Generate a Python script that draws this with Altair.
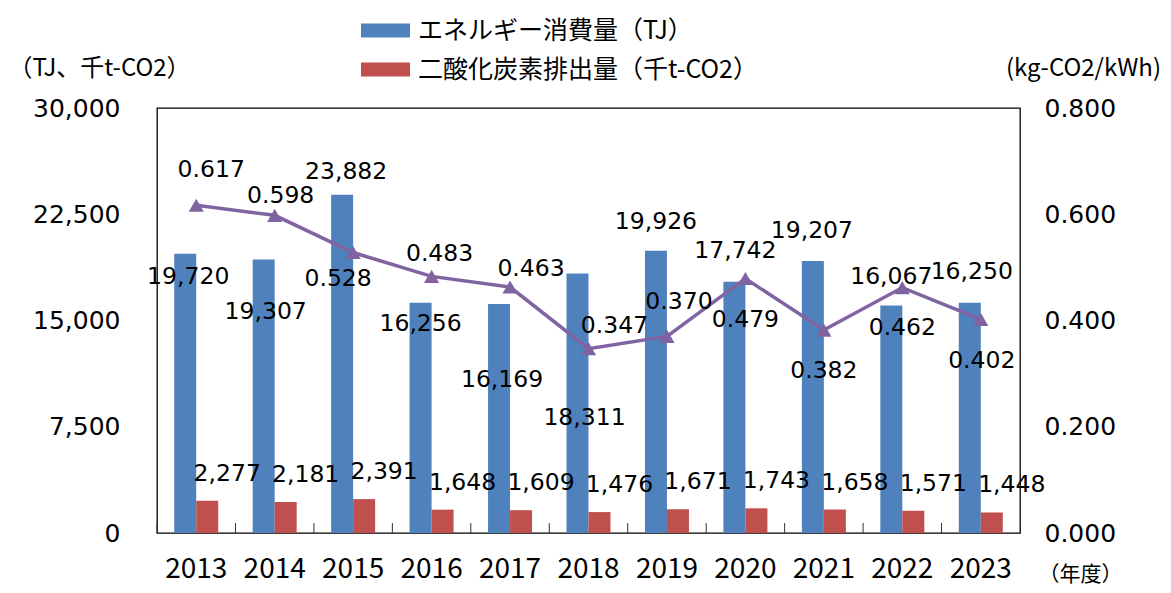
import altair as alt
import pandas as pd

# ---------------- data ----------------
YEARS = ["2013", "2014", "2015", "2016", "2017", "2018", "2019", "2020", "2021", "2022", "2023"]
ENERGY_TJ = [19720, 19307, 23882, 16256, 16169, 18311, 19926, 17742, 19207, 16067, 16250]
CO2_KT = [2277, 2181, 2391, 1648, 1609, 1476, 1671, 1743, 1658, 1571, 1448]
FACTOR = [0.617, 0.598, 0.528, 0.483, 0.463, 0.347, 0.370, 0.479, 0.382, 0.462, 0.402]
SERIES = ["エネルギー消費量（TJ）", "二酸化炭素排出量（千t-CO2）"]
LEFT_TICKS = [0, 7500, 15000, 22500, 30000]
RIGHT_TICKS = [0, 0.2, 0.4, 0.6, 0.8]
LEFT_MAX = 30000
RIGHT_MAX = 0.8
LEFT_TITLE = "（TJ、千t-CO2）"
RIGHT_TITLE = "(kg-CO2/kWh)"
X_TITLE = "（年度）"

# ---------------- label nudges (pixels, relative to the point; +dy = down) ----------------
ENERGY_LABEL_DX = [-8, -9, -7, -11, -8, -4, -11, -10, -12, -11, -9]
ENERGY_LABEL_DY = [23, 53, -23, 21, 76, 144, -29, -31, -30, -28, -31]
FACTOR_LABEL_DX = [15, 6, -15, 8, 21, 26, 12, 0, 0, 0, 1]
FACTOR_LABEL_DY = [-35, -19, 26, -22, -18, -23, -34, 41, 41, 40, 42]
CO2_LABEL_DX = 31
CO2_LABEL_DY = -27

# ---------------- styles ----------------
BLUE = "#4F81BD"
RED = "#C0504D"
PURPLE = "#8064A2"
NUM_FONT = "DejaVu Sans"
JP_FONT = "Noto Sans CJK JP"
PLOT_W, PLOT_H = 863, 425
STEP = PLOT_W / len(YEARS)
L_PER_PX = LEFT_MAX / PLOT_H
R_PER_PX = RIGHT_MAX / PLOT_H
TICK_LEN = 10

df = pd.DataFrame({
    "year": YEARS,
    "energy": ENERGY_TJ,
    "co2": CO2_KT,
    "factor": FACTOR,
    "e_dx": ENERGY_LABEL_DX,
    "e_dy": ENERGY_LABEL_DY,
    "f_dx": FACTOR_LABEL_DX,
    "f_dy": FACTOR_LABEL_DY,
})

base = alt.Chart(df).transform_calculate(
    e_xo=f"datum.e_dx + {STEP / 2}",
    f_xo=f"datum.f_dx + {STEP / 2}",
    c_xo=f"{CO2_LABEL_DX + STEP / 2}",
    band_start="0",
    e_ly=f"datum.energy - datum.e_dy * {L_PER_PX}",
    c_ly=f"datum.co2 - ({CO2_LABEL_DY}) * {L_PER_PX}",
    f_ly=f"datum.factor - datum.f_dy * {R_PER_PX}",
    s_energy=f"'{SERIES[0]}'",
    s_co2=f"'{SERIES[1]}'",
)

xscale = alt.Scale(paddingInner=0, paddingOuter=0)
x_axis_bottom = alt.Axis(
    orient="bottom", labelAngle=0, labelFont=JP_FONT, labelFontSize=28,
    labelColor="black", labelBaseline="middle", labelPadding=36,
    ticks=False, tickSize=0, domain=False, grid=False,
    title=X_TITLE, titleFont=JP_FONT, titleFontSize=21, titleFontWeight="normal",
    titleColor="black", titleAngle=0, titleAlign="center", titleBaseline="middle",
    titleX=923, titleY=41,
)
y_axis_left = alt.Axis(
    values=LEFT_TICKS, format=",d", labelFont=NUM_FONT, labelFontSize=25,
    labelColor="black", labelPadding=37, ticks=False, tickSize=0, domain=False,
    grid=False, title=LEFT_TITLE, titleFont=JP_FONT, titleFontSize=24,
    titleFontWeight="normal", titleColor="black", titleAngle=0, titleAlign="center",
    titleBaseline="middle", titleX=-58, titleY=-40,
)
y_axis_right = alt.Axis(
    orient="right", values=RIGHT_TICKS, format=".3f", labelFont=NUM_FONT,
    labelFontSize=25, labelColor="black", labelPadding=24, ticks=False,
    tickSize=0, domain=False, grid=False, title=RIGHT_TITLE, titleFont=JP_FONT,
    titleFontSize=24, titleFontWeight="normal", titleColor="black", titleAngle=0,
    titleAlign="center", titleBaseline="middle", titleX=63, titleY=-40,
)
yscale_left = alt.Scale(domain=[0, LEFT_MAX], nice=False)
yscale_right = alt.Scale(domain=[0, RIGHT_MAX], nice=False)

x_enc = alt.X("year:N", scale=xscale, sort=YEARS, axis=x_axis_bottom)

color_scale = alt.Scale(domain=SERIES, range=[BLUE, RED])
legend = alt.Legend(
    orient="none", legendX=214.5, legendY=-91.5, direction="vertical", title=None,
    symbolType="M-1.75,-0.5H1.75V0.5H-1.75Z", symbolSize=784, symbolStrokeWidth=0,
    labelFont=JP_FONT, labelFontSize=25, labelColor="black", labelOffset=18.5,
    labelLimit=0, rowPadding=12, padding=0,
)

blue_bars = base.mark_bar(width=22, xOffset=-11).encode(
    x=x_enc,
    y=alt.Y("energy:Q", scale=yscale_left, axis=y_axis_left),
    color=alt.Color("s_energy:N", scale=color_scale, legend=legend),
)
red_bars = base.mark_bar(width=22, xOffset=11).encode(
    x=x_enc,
    y=alt.Y("co2:Q", scale=yscale_left, axis=y_axis_left),
    color=alt.Color("s_co2:N", scale=color_scale, legend=legend),
)
# small inner ticks at the category boundaries along the bottom
boundary_ticks = base.mark_rule(color="#333333", strokeWidth=1).encode(
    x=x_enc,
    xOffset=alt.XOffset("band_start:Q", scale=None),
    y=alt.value(PLOT_H),
    y2=alt.value(PLOT_H - TICK_LEN),
)
text_style = dict(font=NUM_FONT, fontSize=23.5, color="black", align="center", baseline="middle")
blue_text = base.mark_text(**text_style).encode(
    x=x_enc,
    y=alt.Y("e_ly:Q", scale=yscale_left, axis=y_axis_left),
    xOffset=alt.XOffset("e_xo:Q", scale=None),
    text=alt.Text("energy:Q", format=",d"),
)
red_text = base.mark_text(**text_style).encode(
    x=x_enc,
    y=alt.Y("c_ly:Q", scale=yscale_left, axis=y_axis_left),
    xOffset=alt.XOffset("c_xo:Q", scale=None),
    text=alt.Text("co2:Q", format=",d"),
)
left = alt.layer(blue_bars, red_bars, boundary_ticks, blue_text, red_text)

line = base.mark_line(
    color=PURPLE, strokeWidth=3.5,
    point=alt.OverlayMarkDef(shape="triangle-up", size=230, filled=True, color=PURPLE),
).encode(
    x=x_enc,
    y=alt.Y("factor:Q", scale=yscale_right, axis=y_axis_right),
)
line_text = base.mark_text(**text_style).encode(
    x=x_enc,
    y=alt.Y("f_ly:Q", scale=yscale_right, axis=y_axis_right),
    xOffset=alt.XOffset("f_xo:Q", scale=None),
    text=alt.Text("factor:Q", format=".3f"),
)
right = alt.layer(line, line_text)

chart = (
    alt.layer(left, right)
    .resolve_scale(y="independent")
    .properties(
        width=PLOT_W, height=PLOT_H,
        autosize=alt.AutoSizeParams(type="none"),
        padding={"left": 149, "top": 100, "right": 143, "bottom": 52},
        background="white",
    )
    .configure_view(stroke="black", strokeWidth=1.3)
)

chart.save("out.html", embed_options={"renderer": "svg", "actions": False})
